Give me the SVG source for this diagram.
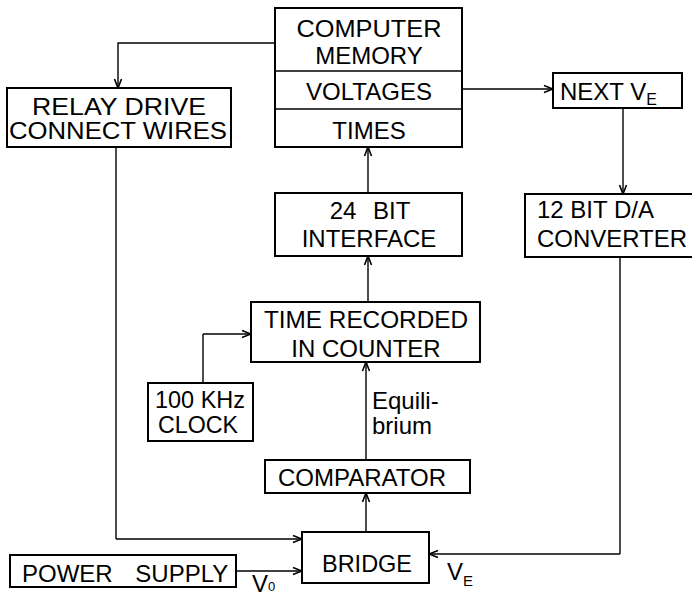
<svg xmlns="http://www.w3.org/2000/svg" width="692" height="597" viewBox="0 0 692 597">
<defs>
<marker id="arr" viewBox="0 0 10 10" refX="10" refY="5" markerWidth="10" markerHeight="10" markerUnits="userSpaceOnUse" orient="auto">
<path d="M1,1.5 L10,5 L1,8.5" fill="none" stroke="#000" stroke-width="1.6"/>
</marker>
</defs>
<style>
.box{fill:#fff;stroke:#000;stroke-width:2}
.ln{fill:none;stroke:#000;stroke-width:1.4}
.con{fill:none;stroke:#000;stroke-width:1.4;marker-end:url(#arr)}
text{font-family:"Liberation Sans",Arial,sans-serif;fill:#000;font-size:24px}
.c{text-anchor:middle}
</style>
<rect width="692" height="597" fill="#fff"/>
<g id="connectors">
<path class="con" d="M275,43 H118 V88"/>
<path class="ln" d="M116,147 V539"/>
<path class="con" d="M116,539 H302"/>
<path class="con" d="M462,89 H553"/>
<path class="con" d="M623,108 V194"/>
<path class="ln" d="M620,257 V554"/>
<path class="con" d="M620,554 H429"/>
<path class="con" d="M368,193 V147"/>
<path class="con" d="M368,302 V256"/>
<path class="ln" d="M203,383 V334"/>
<path class="con" d="M203,334 H251"/>
<path class="con" d="M366,460 V362"/>
<path class="con" d="M366,532 V493"/>
<path class="con" d="M236,571 H302"/>
</g>
<g id="memory">
<rect class="box" x="275" y="8" width="187" height="139"/>
<line class="ln" x1="275" y1="71" x2="462" y2="71" style="stroke-width:1.6"/>
<line class="ln" x1="275" y1="109" x2="462" y2="109" style="stroke-width:1.6"/>
<text class="c" x="369" y="37" font-size="24" textLength="145" lengthAdjust="spacingAndGlyphs">COMPUTER</text>
<text class="c" x="369" y="64" font-size="24">MEMORY</text>
<text class="c" x="369" y="100" font-size="24">VOLTAGES</text>
<text class="c" x="369" y="139" font-size="24">TIMES</text>
</g>
<g id="relay">
<rect class="box" x="7" y="88" width="224" height="59"/>
<text class="c" x="119" y="115" font-size="20" textLength="174" lengthAdjust="spacingAndGlyphs">RELAY DRIVE</text>
<text class="c" x="118" y="139" font-size="20" textLength="218" lengthAdjust="spacingAndGlyphs">CONNECT WIRES</text>
</g>
<g id="nextve">
<rect class="box" x="553" y="73" width="129" height="35"/>
<text x="560" y="100" font-size="24">NEXT V<tspan font-size="16" dy="5">E</tspan></text>
</g>
<g id="dac">
<rect class="box" x="525" y="194" width="172" height="63"/>
<text x="537" y="218" font-size="24">12 BIT D/A</text>
<text x="537" y="247" font-size="24" textLength="150" lengthAdjust="spacingAndGlyphs">CONVERTER</text>
</g>
<g id="interface">
<rect class="box" x="275" y="193" width="187" height="63"/>
<text class="c" x="370" y="219" font-size="24" word-spacing="10">24 BIT</text>
<text class="c" x="369" y="247" font-size="24">INTERFACE</text>
</g>
<g id="timerec">
<rect class="box" x="251" y="302" width="229" height="60"/>
<text class="c" x="366" y="328" font-size="23" textLength="204" lengthAdjust="spacingAndGlyphs">TIME RECORDED</text>
<text class="c" x="366" y="357" font-size="23">IN COUNTER</text>
</g>
<g id="clock">
<rect class="box" x="148" y="383" width="105" height="58"/>
<text class="c" x="200" y="408" font-size="19" textLength="90" lengthAdjust="spacingAndGlyphs">100 KHz</text>
<text class="c" x="198" y="433" font-size="19" textLength="80" lengthAdjust="spacingAndGlyphs">CLOCK</text>
</g>
<g id="equilibrium">
<text x="372" y="409" font-size="19">Equili-</text>
<text x="372" y="434" font-size="19">brium</text>
</g>
<g id="comparator">
<rect class="box" x="265" y="460" width="205" height="33"/>
<text class="c" x="362" y="486" font-size="22" textLength="168" lengthAdjust="spacingAndGlyphs">COMPARATOR</text>
</g>
<g id="bridge">
<rect class="box" x="302" y="532" width="127" height="51"/>
<text class="c" x="367" y="572" font-size="22" textLength="90" lengthAdjust="spacingAndGlyphs">BRIDGE</text>
<text x="447" y="580" font-size="23">V<tspan font-size="15" dy="6">E</tspan></text>
</g>
<g id="power">
<rect class="box" x="10" y="555" width="226" height="32"/>
<text x="22" y="582" font-size="22" word-spacing="16">POWER SUPPLY</text>
<text x="252" y="592" font-size="19">V<tspan font-size="13" dy="-1">0</tspan></text>
</g>
</svg>
